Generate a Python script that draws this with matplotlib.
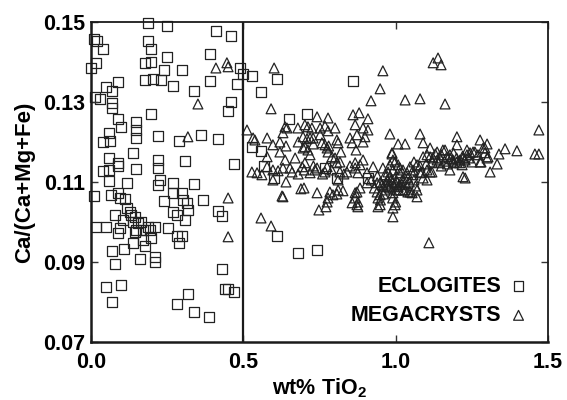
import numpy as np
import matplotlib
matplotlib.use('Agg')
import matplotlib.pyplot as plt

plt.rcParams['font.family'] = ['Liberation Sans', 'DejaVu Sans']
plt.rcParams['font.weight'] = 'bold'
plt.rcParams['mathtext.fontset'] = 'custom'
plt.rcParams['mathtext.bf'] = 'Liberation Sans:bold'
plt.rcParams['mathtext.rm'] = 'Liberation Sans:bold'
plt.rcParams['mathtext.default'] = 'bf'

# eclogites (squares): wt% TiO2, Ca/(Ca+Mg+Fe)
ecl_x = [0.187, 0.249, 0.410, 0.459, 0.010, 0.020, 0.187, 0.197, 0.039, 0.391,
         0.249, 0.016, 0.000, 0.177, 0.197, 0.240, 0.299, 0.489, 0.499, 0.528,
         0.177, 0.203, 0.230, 0.391, 0.479, 0.089, 0.269, 0.049, 0.069, 0.338,
         0.610, 0.558, 0.860, 0.013, 0.030, 0.069, 0.069, 0.459, 0.450, 0.197,
         0.709, 0.650, 0.089, 0.098, 0.148, 0.148, 0.148, 0.059, 0.361, 0.417,
         0.039, 0.062, 0.289, 0.220, 0.528, 0.558, 0.568, 0.601, 0.138, 0.220,
         0.220, 0.308, 0.469, 0.059, 0.089, 0.089, 0.059, 0.039, 0.148, 0.059,
         0.118, 0.226, 0.220, 0.269, 0.338, 0.010, 0.066, 0.089, 0.095, 0.112,
         0.240, 0.269, 0.299, 0.302, 0.315, 0.318, 0.368, 0.118, 0.128, 0.131,
         0.144, 0.079, 0.269, 0.282, 0.308, 0.417, 0.430, 0.105, 0.016, 0.049,
         0.095, 0.089, 0.138, 0.154, 0.164, 0.148, 0.144, 0.171, 0.187, 0.194,
         0.210, 0.253, 0.282, 0.299, 0.289, 0.138, 0.171, 0.197, 0.177, 0.108,
         0.069, 0.161, 0.210, 0.210, 0.079, 0.430, 0.049, 0.098, 0.069, 0.318,
         0.282, 0.338, 0.387, 0.440, 0.450, 0.469, 0.610, 0.679, 0.742, 0.909,
         0.807, 0.768]
ecl_y = [0.1498, 0.1490, 0.1478, 0.1465, 0.1458, 0.1453, 0.1453, 0.1433, 0.1433, 0.1420,
         0.1413, 0.1398, 0.1385, 0.1398, 0.1400, 0.1380, 0.1380, 0.1385, 0.1370, 0.1365,
         0.1355, 0.1358, 0.1355, 0.1353, 0.1345, 0.1350, 0.1340, 0.1338, 0.1328, 0.1328,
         0.1358, 0.1325, 0.1353, 0.1313, 0.1308, 0.1298, 0.1285, 0.1300, 0.1278, 0.1270,
         0.1270, 0.1258, 0.1258, 0.1238, 0.1250, 0.1230, 0.1210, 0.1223, 0.1218, 0.1208,
         0.1200, 0.1203, 0.1203, 0.1215, 0.1188, 0.1178, 0.1140, 0.1110, 0.1173, 0.1155,
         0.1135, 0.1153, 0.1145, 0.1160, 0.1148, 0.1140, 0.1130, 0.1128, 0.1133, 0.1103,
         0.1098, 0.1105, 0.1093, 0.1098, 0.1095, 0.1065, 0.1068, 0.1073, 0.1060, 0.1058,
         0.1053, 0.1073, 0.1073, 0.1055, 0.1048, 0.1030, 0.1055, 0.1035, 0.1025, 0.1018,
         0.1013, 0.1018, 0.1025, 0.1018, 0.1005, 0.1028, 0.1015, 0.1005, 0.0988, 0.0988,
         0.0985, 0.0973, 0.1000, 0.0998, 0.1000, 0.0980, 0.0975, 0.0980, 0.0988, 0.0980,
         0.0988, 0.0985, 0.0965, 0.0965, 0.0948, 0.0948, 0.0955, 0.0960, 0.0940, 0.0933,
         0.0928, 0.0908, 0.0913, 0.0900, 0.0895, 0.0883, 0.0838, 0.0843, 0.0800, 0.0820,
         0.0795, 0.0775, 0.0763, 0.0833, 0.0833, 0.0825, 0.0965, 0.0923, 0.0930, 0.1110,
         0.1110, 0.1135]

# megacrysts (triangles)
meg_x = [0.410, 0.446, 0.450, 0.351, 0.318, 0.450, 0.450, 0.601, 0.591, 0.958,
         1.123, 1.139, 1.149, 0.949, 0.919, 1.031, 1.080, 1.162, 1.470, 1.457,
         1.470, 0.558, 0.591, 0.627, 1.109, 0.512, 0.532, 0.538,
         0.742, 0.778, 0.860, 0.880, 0.909, 0.630, 0.643, 0.679, 0.702, 0.712,
         0.752, 0.768, 0.801, 0.778, 0.867, 0.893, 0.909, 0.725, 0.637,
         0.578, 0.597, 0.620, 0.696, 0.719, 0.752, 0.807, 0.850, 0.873, 0.899,
         0.981, 1.080, 0.709, 0.729, 0.893,
         0.620, 0.702, 0.712, 0.758, 0.775, 0.791, 0.801, 0.857, 1.008, 1.031,
         1.090, 1.201, 1.277, 1.300, 0.768, 0.811,
         0.578, 0.670, 0.702, 0.719, 0.778, 0.807, 0.867, 0.893, 0.926, 0.988,
         0.991, 1.113, 1.155, 1.201, 1.234, 1.254, 1.293, 1.339, 1.359, 1.398,
         0.637, 0.817, 0.696,
         0.528, 0.545, 0.561, 0.578, 0.597, 0.614, 0.630, 0.653, 0.693, 0.719,
         0.735, 0.768, 0.817, 0.840, 0.867, 0.876, 0.883, 0.906, 0.958, 0.991,
         1.014, 1.037, 1.057, 1.086, 1.103, 1.119, 1.178, 1.221, 1.277, 1.303,
         1.310, 1.333, 0.742, 0.775,
         0.597, 0.640, 0.811, 0.965, 0.972, 0.981, 0.988, 0.998, 0.939, 0.906,
         1.021, 1.031, 1.040, 1.057, 1.080, 1.090, 1.103, 1.113,
         0.630, 0.689, 0.699, 0.742, 0.784, 0.807, 0.827, 0.873, 0.939, 0.972,
         0.991, 1.008, 1.040, 1.070, 0.794, 0.811, 0.867, 0.883, 1.024, 1.054,
         1.070, 0.949, 0.998, 1.014, 1.031, 1.047,
         0.857, 0.867, 0.873, 0.876, 0.771, 0.748, 0.949, 0.942, 0.991, 0.991,
         0.998, 0.778, 0.775, 0.876, 0.942,
         1.090, 1.103, 1.113, 1.123, 1.136, 1.146, 1.168, 1.178, 1.188, 1.201,
         1.211, 1.221, 1.234, 1.244, 1.218, 0.998, 1.008, 1.014, 1.024, 1.047,
         1.070, 1.136, 1.162, 1.260, 1.270, 1.287, 1.293, 1.300, 1.280, 1.228,
         1.228, 0.988, 0.981, 0.975, 1.001, 0.965, 0.955,
         0.930, 0.950, 0.960, 0.970, 0.980, 0.985, 0.995, 1.005, 1.010, 1.020,
         1.030, 1.045, 1.060, 1.065, 0.920, 0.940, 0.960, 0.990, 1.000, 0.950,
         1.100, 1.120, 1.140, 1.150, 1.160, 1.170, 1.180, 1.190, 1.200, 1.210,
         1.220, 1.240, 1.250, 1.130, 1.150, 1.190, 1.080, 1.060,
         0.660, 0.680, 0.700, 0.730, 0.760, 0.790, 0.830, 0.850, 0.640, 0.680,
         0.730, 0.780, 0.820, 0.870]
meg_y = [0.1385, 0.1398, 0.1388, 0.1295, 0.1213, 0.1060, 0.0963, 0.1385, 0.1283, 0.1378,
         0.1398, 0.1410, 0.1393, 0.1333, 0.1303, 0.1305, 0.1308, 0.1295, 0.1230, 0.1170,
         0.1170, 0.1010, 0.0990, 0.1065, 0.0948, 0.1230, 0.1210, 0.1205,
         0.1263, 0.1260, 0.1268, 0.1273, 0.1258, 0.1223, 0.1235, 0.1235, 0.1243, 0.1238,
         0.1235, 0.1240, 0.1235, 0.1228, 0.1243, 0.1235, 0.1230, 0.1235, 0.1238,
         0.1210, 0.1193, 0.1200, 0.1213, 0.1210, 0.1218, 0.1205, 0.1210, 0.1218, 0.1213,
         0.1220, 0.1220, 0.1208, 0.1210, 0.1200,
         0.1175, 0.1188, 0.1180, 0.1198, 0.1185, 0.1163, 0.1160, 0.1198, 0.1195, 0.1195,
         0.1198, 0.1213, 0.1205, 0.1195, 0.1193, 0.1198,
         0.1163, 0.1160, 0.1148, 0.1168, 0.1175, 0.1148, 0.1148, 0.1155, 0.1138, 0.1170,
         0.1155, 0.1185, 0.1180, 0.1193, 0.1180, 0.1175, 0.1185, 0.1170, 0.1183, 0.1178,
         0.1155, 0.1150, 0.1185,
         0.1125, 0.1123, 0.1118, 0.1138, 0.1130, 0.1128, 0.1135, 0.1135, 0.1138, 0.1123,
         0.1130, 0.1125, 0.1125, 0.1125, 0.1135, 0.1123, 0.1143, 0.1123, 0.1135, 0.1130,
         0.1123, 0.1123, 0.1130, 0.1125, 0.1105, 0.1125, 0.1130, 0.1113, 0.1150, 0.1163,
         0.1125, 0.1145, 0.1135, 0.1138,
         0.1105, 0.1100, 0.1105, 0.1118, 0.1105, 0.1113, 0.1100, 0.1110, 0.1098, 0.1098,
         0.1105, 0.1098, 0.1110, 0.1118, 0.1123, 0.1110, 0.1130, 0.1125,
         0.1063, 0.1083, 0.1085, 0.1073, 0.1075, 0.1070, 0.1078, 0.1075, 0.1075, 0.1088,
         0.1073, 0.1088, 0.1075, 0.1080, 0.1068, 0.1080, 0.1073, 0.1085, 0.1080, 0.1073,
         0.1063, 0.1068, 0.1098, 0.1093, 0.1080, 0.1075,
         0.1048, 0.1060, 0.1043, 0.1050, 0.1038, 0.1030, 0.1043, 0.1060, 0.1013, 0.1035,
         0.1043, 0.1060, 0.1050, 0.1038, 0.1038,
         0.1163, 0.1168, 0.1163, 0.1160, 0.1155, 0.1160, 0.1163, 0.1168, 0.1155, 0.1150,
         0.1155, 0.1160, 0.1168, 0.1173, 0.1143, 0.1150, 0.1143, 0.1135, 0.1130, 0.1138,
         0.1143, 0.1175, 0.1180, 0.1175, 0.1168, 0.1185, 0.1173, 0.1160, 0.1150, 0.1155,
         0.1110, 0.1173, 0.1143, 0.1125, 0.1080, 0.1080, 0.1093,
         0.1085, 0.1100, 0.1090, 0.1095, 0.1085, 0.1105, 0.1090, 0.1100, 0.1080, 0.1095,
         0.1110, 0.1100, 0.1105, 0.1090, 0.1105, 0.1115, 0.1070, 0.1060, 0.1050, 0.1055,
         0.1145, 0.1150, 0.1148, 0.1140, 0.1152, 0.1145, 0.1158, 0.1148, 0.1160, 0.1148,
         0.1165, 0.1160, 0.1150, 0.1170, 0.1168, 0.1172, 0.1140, 0.1150,
         0.1125, 0.1120, 0.1130, 0.1140, 0.1120, 0.1130, 0.1120, 0.1140, 0.1190, 0.1200,
         0.1195, 0.1190, 0.1175, 0.1180]

x_ticks = [0.0, 0.5, 1.0, 1.5]
y_ticks = [0.07, 0.09, 0.11, 0.13, 0.15]

fig = plt.figure(figsize=(5.67, 4.0), dpi=100)
ax = fig.add_axes([0.1605, 0.145, 0.806, 0.80])

mk = dict(facecolors='none', edgecolors='#222222', linewidths=0.9, s=50)
ax.scatter(ecl_x, ecl_y, marker='s', label='ECLOGITES', clip_on=False, **mk)
ax.scatter(meg_x, meg_y, marker='^', label='MEGACRYSTS', clip_on=False, **mk)

ax.axvline(0.5, color='#1a1a1a', lw=1.6)

ax.set_xlim(0, 1.5)
ax.set_ylim(0.07, 0.15)
ax.set_xticks(x_ticks)
ax.set_yticks(y_ticks)
ax.set_xticklabels(['%.1f' % v for v in x_ticks])
ax.set_yticklabels(['%.2f' % v for v in y_ticks])
ax.tick_params(direction='in', length=5, width=1.0, labelsize=15.5,
               top=True, right=True, color='#333333')
ax.tick_params(axis='x', pad=7)
ax.tick_params(axis='y', pad=4)
for s in ax.spines.values():
    s.set_linewidth(1.3)
    s.set_color('#1a1a1a')
ax.spines['left'].set_linewidth(1.8)
ax.spines['bottom'].set_linewidth(1.8)

ax.set_xlabel('wt% TiO$_2$', fontsize=15.5, fontweight='bold', labelpad=3)
ax.set_ylabel('Ca/(Ca+Mg+Fe)', fontsize=16, fontweight='bold', labelpad=6)

ax.legend(loc='lower right', bbox_to_anchor=(0.992, 0.003), frameon=False,
          markerfirst=False, fontsize=15.5, handletextpad=0.3,
          labelspacing=0.38, handlelength=1.0, borderpad=0.2)

plt.savefig('out.png', dpi=100)
